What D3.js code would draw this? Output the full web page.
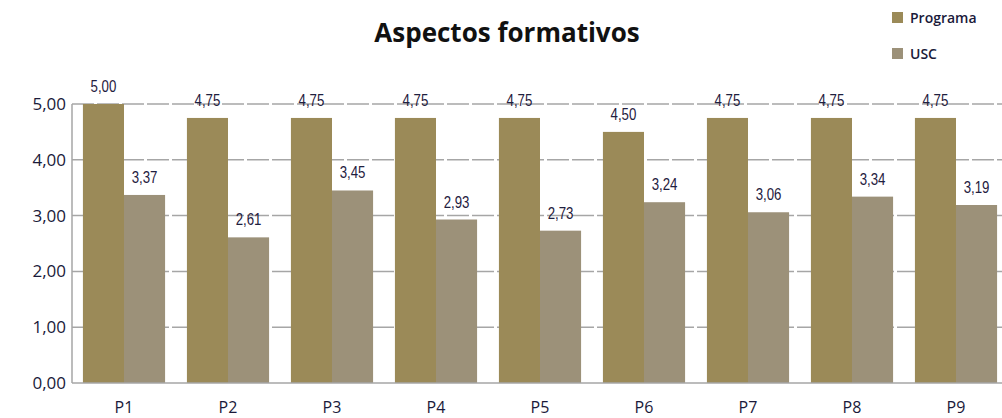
<!DOCTYPE html>
<html>
<head>
<meta charset="utf-8">
<script src="https://cdn.jsdelivr.net/npm/d3@7"></script>
<style>
  body { margin: 0; background: #fff; }
</style>
</head>
<body>
<div id="chart"></div>
<script>
var categories = ["P1", "P2", "P3", "P4", "P5", "P6", "P7", "P8", "P9"];
var programa = [5.00, 4.75, 4.75, 4.75, 4.75, 4.50, 4.75, 4.75, 4.75];
var usc = [3.37, 2.61, 3.45, 2.93, 2.73, 3.24, 3.06, 3.34, 3.19];
var seriesNames = ["Programa", "USC"];
var yTicks = [0, 1, 2, 3, 4, 5];

function init(){
    var w = 1002;
    var h = 418;
    var colors = ["#9b8a58", "#9c9179"];
    var margin = {left: 72, top: 104, bottom: 35};
    var plotRight = 72 + 9 * 104;

    var fmt = function(d){ return d3.format(".2f")(d).replace(".", ","); };

    var svg = d3.select("#chart")
                .append("svg")
                .attr("width", w)
                .attr("height", h);

    var xScale = d3.scaleBand()
                    .domain(categories)
                    .range([margin.left, plotRight])
                    .paddingInner(0.21)
                    .paddingOuter(0.105);

    var xInner = d3.scaleBand()
                    .domain(seriesNames)
                    .range([0, xScale.bandwidth()]);

    var yScale = d3.scaleLinear()
                    .domain([0, 5])
                    .range([h - margin.bottom, margin.top]);

    // gridlines
    svg.append("g")
        .selectAll("line")
        .data(yTicks.slice(1))
        .enter()
        .append("line")
        .attr("x1", margin.left)
        .attr("x2", plotRight)
        .attr("y1", function(d){ return yScale(d); })
        .attr("y2", function(d){ return yScale(d); })
        .attr("stroke", "#a6a6a6")
        .attr("stroke-width", 1.5)
        .attr("stroke-dasharray", "22,3");

    // bars
    var groups = svg.selectAll(".grp")
        .data(categories)
        .enter()
        .append("g")
        .attr("transform", function(d){ return "translate(" + xScale(d) + ",0)"; });

    groups.selectAll("rect")
        .data(function(d, i){ return [
            {s: "Programa", v: programa[i], c: colors[0]},
            {s: "USC", v: usc[i], c: colors[1]}
        ]; })
        .enter()
        .append("rect")
        .attr("x", function(d){ return xInner(d.s); })
        .attr("y", function(d){ return yScale(d.v); })
        .attr("width", xInner.bandwidth())
        .attr("height", function(d){ return yScale(0) - yScale(d.v); })
        .attr("fill", function(d){ return d.c; });

    // value labels, narrow look by squeezing horizontally
    groups.selectAll("text")
        .data(function(d, i){ return [
            {s: "Programa", v: programa[i]},
            {s: "USC", v: usc[i]}
        ]; })
        .enter()
        .append("text")
        .attr("transform", function(d){
            return "translate(" + (xInner(d.s) + xInner.bandwidth() / 2) + "," + (yScale(d.v) - 12) + ") scale(0.78,1)";
        })
        .attr("text-anchor", "middle")
        .attr("font-family", "'Liberation Sans', sans-serif")
        .attr("font-size", "17px")
        .attr("fill", "#1f2040")
        .text(function(d){ return fmt(d.v); });

    // axes lines
    svg.append("line")
        .attr("x1", margin.left).attr("x2", margin.left)
        .attr("y1", yScale(5)).attr("y2", yScale(0))
        .attr("stroke", "#a6a6a6").attr("stroke-width", 1.5);
    svg.append("line")
        .attr("x1", margin.left).attr("x2", plotRight)
        .attr("y1", yScale(0)).attr("y2", yScale(0))
        .attr("stroke", "#a6a6a6").attr("stroke-width", 1.5);

    // y tick labels
    svg.append("g")
        .selectAll("text")
        .data(yTicks)
        .enter()
        .append("text")
        .attr("x", 66)
        .attr("y", function(d){ return yScale(d) + 6; })
        .attr("text-anchor", "end")
        .attr("font-family", "'Open Sans', sans-serif")
        .attr("font-size", "17px")
        .attr("fill", "#1a1a3a")
        .text(function(d){ return fmt(d); });

    // x labels
    svg.append("g")
        .selectAll("text")
        .data(categories)
        .enter()
        .append("text")
        .attr("x", function(d){ return xScale(d) + xScale.bandwidth() / 2; })
        .attr("y", 413)
        .attr("text-anchor", "middle")
        .attr("font-family", "'Open Sans', sans-serif")
        .attr("font-size", "16px")
        .attr("fill", "#1a1a3a")
        .text(function(d){ return d; });

    // title
    svg.append("text")
        .attr("x", 507)
        .attr("y", 42)
        .attr("text-anchor", "middle")
        .attr("font-family", "'Open Sans', sans-serif")
        .attr("font-weight", "bold")
        .attr("font-size", "26px")
        .attr("fill", "#111")
        .text("Aspectos formativos");

    // legend
    var legend = svg.selectAll(".leg")
        .data(seriesNames)
        .enter()
        .append("g")
        .attr("transform", function(d, i){ return "translate(892," + (12 + i * 36) + ")"; });
    legend.append("rect")
        .attr("width", 11).attr("height", 11)
        .attr("fill", function(d, i){ return colors[i]; });
    legend.append("text")
        .attr("x", 18)
        .attr("y", 11)
        .attr("font-family", "'Open Sans', sans-serif")
        .attr("font-size", "14px")
        .attr("font-weight", "600")
        .attr("fill", "#1a1a3a")
        .text(function(d){ return d; });
}

window.onload = init;
</script>
</body>
</html>
